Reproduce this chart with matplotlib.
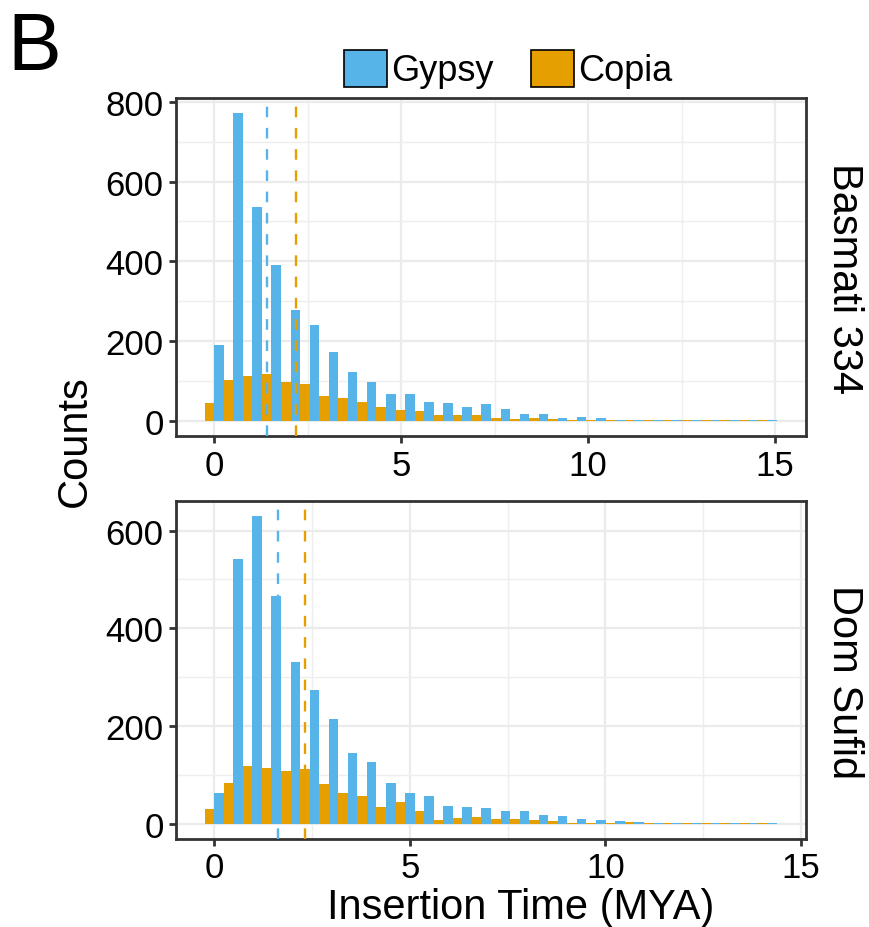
import matplotlib
matplotlib.use("Agg")
import matplotlib.pyplot as plt
from matplotlib.patches import Patch
from matplotlib.ticker import MultipleLocator
import numpy as np

plt.rcParams["font.family"] = ["Liberation Sans", "DejaVu Sans"]

# histogram counts per bin (30 bins, ggplot default)
gypsy_basmati = [191, 771, 536, 391, 278, 241, 171, 123, 96, 68, 66, 46, 43, 33, 41,
                 30, 17, 17, 7, 10, 7, 2, 2, 2, 1, 1, 1, 1, 1, 1]
copia_basmati = [43, 101, 113, 118, 96, 93, 63, 58, 48, 33, 26, 23, 13, 13, 13,
                 7, 5, 7, 5, 2, 2, 1, 1, 1, 1, 1, 1, 1, 1, 1]
gypsy_sufid = [62, 541, 629, 466, 331, 274, 215, 144, 127, 84, 62, 56, 37, 35, 33,
               25, 25, 17, 15, 9, 7, 5, 3, 1, 1, 1, 1, 1, 1, 1]
copia_sufid = [29, 84, 119, 113, 107, 111, 82, 62, 56, 35, 44, 25, 7, 11, 13,
               9, 9, 7, 5, 1, 1, 1, 3, 1, 1, 1, 1, 1, 1, 1]

# bin widths (MYA) and mean insertion times (dashed lines)
binwidth = {"Basmati 334": 0.5106, "Dom Sufid": 0.488}
mean_gypsy = {"Basmati 334": 1.42, "Dom Sufid": 1.62}
mean_copia = {"Basmati 334": 2.18, "Dom Sufid": 2.31}

panels = [("Basmati 334", gypsy_basmati, copia_basmati),
          ("Dom Sufid", gypsy_sufid, copia_sufid)]

BLUE = "#56B4E9"
ORANGE = "#E69F00"
DARK = "#333333"

W, H = 869, 928
fig = plt.figure(figsize=(W / 100, H / 100), dpi=100)

# panel boxes in pixels: left, top, right, bottom
boxes = [(176, 99, 806, 437), (176, 502, 806, 840)]

for (name, gyp, cop), (x0, y0, x1, y1) in zip(panels, boxes):
    ax = fig.add_axes([x0 / W, 1 - y1 / H, (x1 - x0) / W, (y1 - y0) / H])
    w = binwidth[name]
    centers = np.arange(len(gyp)) * w
    ax.bar(centers - w / 4, cop, width=w / 2, color=ORANGE, lw=0, zorder=2)
    ax.bar(centers + w / 4, gyp, width=w / 2, color=BLUE, lw=0, zorder=2)
    ax.axvline(mean_gypsy[name], color=BLUE, lw=1.7, ls=(0, (4.5, 4.5)), zorder=3)
    ax.axvline(mean_copia[name], color=ORANGE, lw=1.7, ls=(0, (4.5, 4.5)), zorder=3)

    # ggplot-style 5% expansion
    lo, hi = centers[0] - w / 2, centers[-1] + w / 2
    pad = 0.05 * (hi - lo)
    ax.set_xlim(lo - pad, hi + pad)
    ymax = max(max(gyp), max(cop))
    ax.set_ylim(-0.05 * ymax, 1.05 * ymax)

    ax.xaxis.set_major_locator(MultipleLocator(5))
    ax.xaxis.set_minor_locator(MultipleLocator(2.5))
    ax.yaxis.set_major_locator(MultipleLocator(200))
    ax.yaxis.set_minor_locator(MultipleLocator(100))
    ax.grid(which="major", color="#EBEBEB", lw=1.6, zorder=0)
    ax.grid(which="minor", color="#EEEEEE", lw=1.0, zorder=0)
    ax.set_axisbelow(True)
    for s in ax.spines.values():
        s.set_color(DARK)
        s.set_linewidth(2)
    ax.tick_params(which="major", length=5, width=2, color=DARK,
                   labelsize=25, pad=4)
    ax.tick_params(which="minor", length=0)

    fig.text(844 / W, 1 - ((y0 + y1) / 2 + 11) / H, name, rotation=-90,
             ha="center", va="center", fontsize=30)

fig.text(75 / W, 1 - 441 / H, "Counts", rotation=90, ha="center", va="center",
         fontsize=30)
fig.text(521 / W, 1 - 919 / H, "Insertion Time (MYA)", ha="center", va="baseline",
         fontsize=30)
fig.text(7 / W, 1 - 70 / H, "B", ha="left", va="baseline", fontsize=58)

handles = [Patch(facecolor=BLUE, edgecolor="black", lw=1.2, label="Gypsy"),
           Patch(facecolor=ORANGE, edgecolor="black", lw=1.2, label="Copia")]
fig.legend(handles=handles, loc="center", bbox_to_anchor=(508 / W, 1 - 70 / H),
           ncol=2, frameon=False, fontsize=26, handlelength=1.2, handleheight=1.2,
           handletextpad=0.1, columnspacing=1.05, borderpad=0, borderaxespad=0)

fig.savefig("out.png", dpi=100)
